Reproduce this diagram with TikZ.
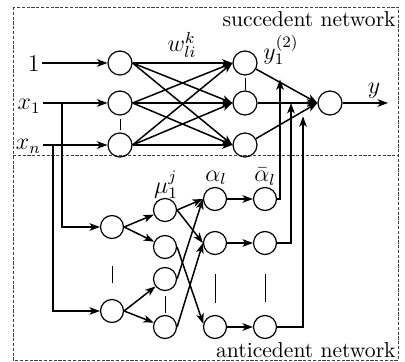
\documentclass[tikz,border=0pt]{standalone}
\usetikzlibrary{arrows.meta,calc}
\begin{document}
\begin{tikzpicture}[x=0.5pt,y=-0.5pt,
  neuron/.style={circle,draw,line width=0.6pt,minimum size=12pt,inner sep=0pt},
  sneuron/.style={circle,draw,line width=0.6pt,minimum size=11.5pt,inner sep=0pt},
  arr/.style={line width=0.75pt,-{Stealth[length=5.2pt,width=3.8pt,inset=1.4pt]}},
  thinarr/.style={line width=0.55pt,-{Stealth[length=5.2pt,width=3.8pt,inset=1.4pt]}},
  dotsline/.style={line width=0.5pt},
  lab/.style={font=\fontsize{11.5}{13}\selectfont,inner sep=1pt},
  ttl/.style={font=\fontsize{10.8}{13}\selectfont,inner sep=0pt},
  frame/.style={draw=black!75,line width=0.4pt,dash pattern=on 1.6pt off 0.8pt}]
\useasboundingbox (0,0) rectangle (405,362);
% frames
\draw[frame] (13,7) rectangle (398,360);
\draw[frame] (13,155) -- (398,155);
\node[ttl,anchor=base east] (succ) at (396,27) {succedent network};
\node[ttl,anchor=base east] (ante) at (396,357) {anticedent network};
% top network
\node[neuron] (l11) at (120,63) {};
\node[neuron] (l12) at (120,103) {};
\node[neuron] (l13) at (120,145) {};
\node[neuron] (l21) at (245,63) {};
\node[neuron] (l22) at (245,103) {};
\node[neuron] (l23) at (245,145) {};
\node[neuron] (o) at (330,103) {};
% bottom network
\node[sneuron] (a1) at (112,227) {};
\node[sneuron] (a2) at (112,311) {};
\node[sneuron] (b1) at (165,210) {};
\node[sneuron] (b2) at (165,247) {};
\node[sneuron] (b3) at (165,279) {};
\node[sneuron] (b4) at (165,327) {};
\node[sneuron] (c1) at (215,199) {};
\node[sneuron] (c2) at (215,243) {};
\node[sneuron] (c3) at (215,327) {};
\node[sneuron] (d1) at (265,199) {};
\node[sneuron] (d2) at (265,243) {};
\node[sneuron] (d3) at (265,327) {};
% labels
\node[lab,anchor=base east] (one) at (42,72) {$1$};
\node[lab,anchor=base east] (x1) at (43,110) {$x_1$};
\node[lab,anchor=base east] (xn) at (43,150) {$x_n$};
\node[lab] (w) at (182,45) {$w_{li}^{k}$};
\node[lab] (y12) at (281,50) {$y_1^{(2)}$};
\node[lab] (yout) at (374,91) {$y$};
\node[lab] (mu) at (166,185) {$\mu_1^{j}$};
\node[lab] (al) at (216,178) {$\alpha_l$};
\node[lab] (abl) at (265,177) {$\bar{\alpha}_l$};
% inputs
\draw[arr] (one.east |- l11) -- (l11);
\draw[arr] (x1.east |- l12) -- (l12);
\draw[arr] (xn.east |- l13) -- (l13);
\foreach \i in {1,2,3}{\foreach \j in {1,2,3}{\draw[arr] (l1\i.east) -- (l2\j.west);}}
\foreach \j in {1,2,3}{\draw[arr] (l2\j) -- (o.west);}
\coordinate (yend) at (388,103);
\draw[arr] (o) -- (yend);
% branches to anticedent
\coordinate (v1) at (62,103);
\coordinate (vn) at (53,145);
\draw[thinarr] (v1) |- (a1);
\draw[thinarr] (vn) |- (a2);
% bottom connections
\draw[arr] (a1.east) -- (b1);
\draw[arr] (a1.east) -- (b2);
\draw[arr] (a2.east) -- (b3);
\draw[arr] (a2.east) -- (b4);
\draw[arr] (b1.east) -- (c1.west);
\draw[arr] (b1.east) -- (c2.west);
\draw[arr] (b2.east) -- (c3.165);
\draw[arr] (b3.east) -- (c1.west);
\draw[arr] (b4.east) -- (c2.west);
\draw[arr] (c1) -- (d1);
\draw[arr] (c2) -- (d2);
\draw[arr] (c3) -- (d3);
% feedback to succedent
\coordinate (t1) at ($(l21)!0.4118!(o)$);
\coordinate (t2) at ($(l22)!0.5412!(o)$);
\coordinate (t3) at ($(l23)!0.6824!(o)$);
\draw[arr] (d1.east) -| (t1);
\draw[arr] (d2.east) -| (t2);
\draw[arr] (d3.east) -| (t3);
% ellipsis bars
\draw[dotsline] (120,119) -- (120,130);
\draw[dotsline] (245,78) -- (245,90);
\draw[dotsline] (112,266) -- (112,283);
\draw[dotsline] (165,296) -- (165,313);
\draw[dotsline] (215,274) -- (215,303);
\draw[dotsline] (265,274) -- (265,302);
\end{tikzpicture}
\end{document}
